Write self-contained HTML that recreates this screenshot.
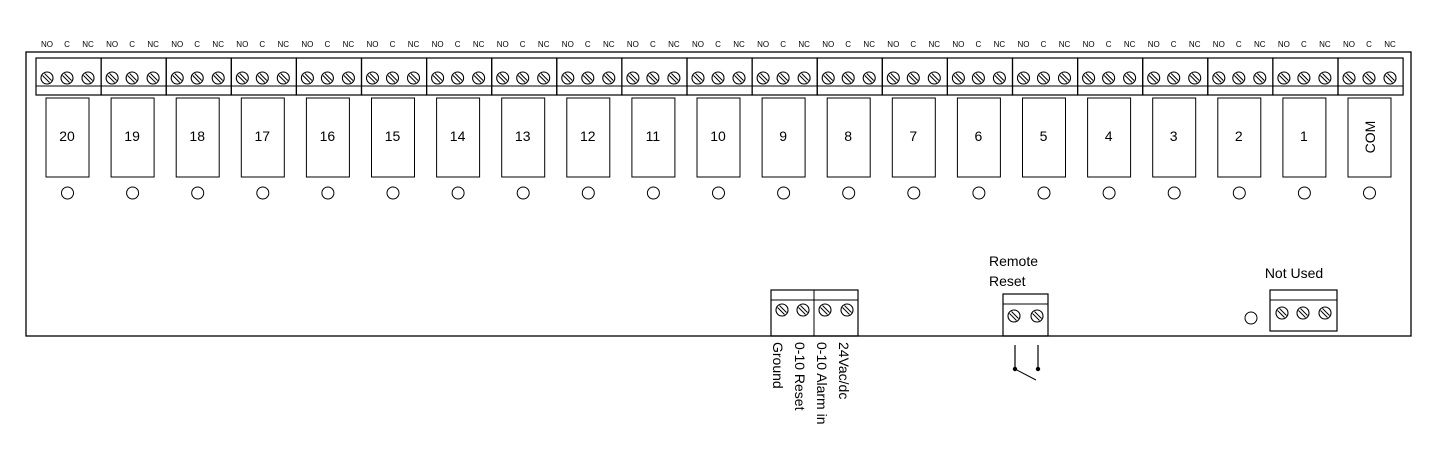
<!DOCTYPE html>
<html><head><meta charset="utf-8"><style>
html,body{margin:0;padding:0;background:#fff;}
svg{display:block;font-family:"Liberation Sans",Arial,sans-serif;}
</style></head><body>
<svg width="1432" height="470" viewBox="0 0 1432 470" xmlns="http://www.w3.org/2000/svg">
<defs>
<g id="sc"><circle cx="0" cy="0" r="6" fill="#fff" stroke="#000" stroke-width="1.1"/><line x1="-4.5" y1="-2.5" x2="2.5" y2="4.5" stroke="#000" stroke-width="1"/><line x1="-2.5" y1="-4.5" x2="4.5" y2="2.5" stroke="#000" stroke-width="1"/></g>
<g id="blk">
<rect x="0" y="58" width="65.1" height="37" fill="none" stroke="#000" stroke-width="1.2"/>
<line x1="0" y1="86" x2="65.1" y2="86" stroke="#000" stroke-width="1"/>
<use href="#sc" x="11" y="78"/><use href="#sc" x="31" y="78"/><use href="#sc" x="52" y="78"/>
<rect x="10" y="98" width="43" height="79" fill="none" stroke="#000" stroke-width="1"/>
<circle cx="31.5" cy="193" r="6" fill="none" stroke="#000" stroke-width="1"/>
<text y="47" font-size="8" text-anchor="middle"><tspan x="11">NO</tspan><tspan x="31">C</tspan><tspan x="52">NC</tspan></text>
</g>
</defs>
<rect x="26" y="52" width="1385" height="284" fill="none" stroke="#000" stroke-width="1.3"/>
<g font-size="14" text-anchor="middle">
<g transform="translate(36,0)"><use href="#blk"/><text x="31" y="141">20</text></g>
<g transform="translate(101.1,0)"><use href="#blk"/><text x="31" y="141">19</text></g>
<g transform="translate(166.2,0)"><use href="#blk"/><text x="31" y="141">18</text></g>
<g transform="translate(231.3,0)"><use href="#blk"/><text x="31" y="141">17</text></g>
<g transform="translate(296.4,0)"><use href="#blk"/><text x="31" y="141">16</text></g>
<g transform="translate(361.5,0)"><use href="#blk"/><text x="31" y="141">15</text></g>
<g transform="translate(426.6,0)"><use href="#blk"/><text x="31" y="141">14</text></g>
<g transform="translate(491.7,0)"><use href="#blk"/><text x="31" y="141">13</text></g>
<g transform="translate(556.8,0)"><use href="#blk"/><text x="31" y="141">12</text></g>
<g transform="translate(621.9,0)"><use href="#blk"/><text x="31" y="141">11</text></g>
<g transform="translate(687,0)"><use href="#blk"/><text x="31" y="141">10</text></g>
<g transform="translate(752.1,0)"><use href="#blk"/><text x="31" y="141">9</text></g>
<g transform="translate(817.2,0)"><use href="#blk"/><text x="31" y="141">8</text></g>
<g transform="translate(882.3,0)"><use href="#blk"/><text x="31" y="141">7</text></g>
<g transform="translate(947.4,0)"><use href="#blk"/><text x="31" y="141">6</text></g>
<g transform="translate(1012.5,0)"><use href="#blk"/><text x="31" y="141">5</text></g>
<g transform="translate(1077.6,0)"><use href="#blk"/><text x="31" y="141">4</text></g>
<g transform="translate(1142.7,0)"><use href="#blk"/><text x="31" y="141">3</text></g>
<g transform="translate(1207.8,0)"><use href="#blk"/><text x="31" y="141">2</text></g>
<g transform="translate(1272.9,0)"><use href="#blk"/><text x="31" y="141">1</text></g>
<g transform="translate(1338,0)"><use href="#blk"/><text transform="translate(37,137) rotate(-90)" x="0" y="0">COM</text></g>
</g>
<!-- 0-10 block -->
<rect x="771" y="290" width="87" height="46" fill="none" stroke="#000" stroke-width="1.2"/>
<line x1="771" y1="300" x2="858" y2="300" stroke="#000"/>
<line x1="814" y1="290" x2="814" y2="336" stroke="#000"/>
<use href="#sc" x="782" y="310"/><use href="#sc" x="803" y="310"/><use href="#sc" x="825" y="310"/><use href="#sc" x="847" y="310"/>
<g font-size="14">
<text transform="translate(773,342) rotate(90)">Ground</text>
<text transform="translate(795,342) rotate(90)">0-10 Reset</text>
<text transform="translate(817,342) rotate(90)">0-10 Alarm in</text>
<text transform="translate(839,342) rotate(90)">24Vac/dc</text>
</g>
<!-- Remote reset -->
<text x="989" y="266" font-size="14">Remote</text>
<text x="989" y="286" font-size="14">Reset</text>
<rect x="1003" y="294" width="45" height="42" fill="none" stroke="#000" stroke-width="1.2"/>
<line x1="1003" y1="304" x2="1048" y2="304" stroke="#000"/>
<use href="#sc" x="1014" y="316"/><use href="#sc" x="1037" y="316"/>
<line x1="1015" y1="345" x2="1015" y2="369" stroke="#000" stroke-width="1.2"/>
<line x1="1038" y1="345" x2="1038" y2="369" stroke="#000" stroke-width="1.2"/>
<circle cx="1015" cy="369" r="2.2"/><circle cx="1038" cy="369" r="2.2"/>
<line x1="1015" y1="369" x2="1036" y2="380" stroke="#000"/>
<!-- Not used -->
<text x="1294" y="278" font-size="14" text-anchor="middle">Not Used</text>
<circle cx="1251" cy="318" r="6" fill="none" stroke="#000"/>
<rect x="1270" y="290" width="67" height="41" fill="none" stroke="#000" stroke-width="1.2"/>
<line x1="1270" y1="300" x2="1337" y2="300" stroke="#000"/>
<use href="#sc" x="1282" y="313"/><use href="#sc" x="1303" y="313"/><use href="#sc" x="1325" y="313"/>
</svg>
</body></html>
